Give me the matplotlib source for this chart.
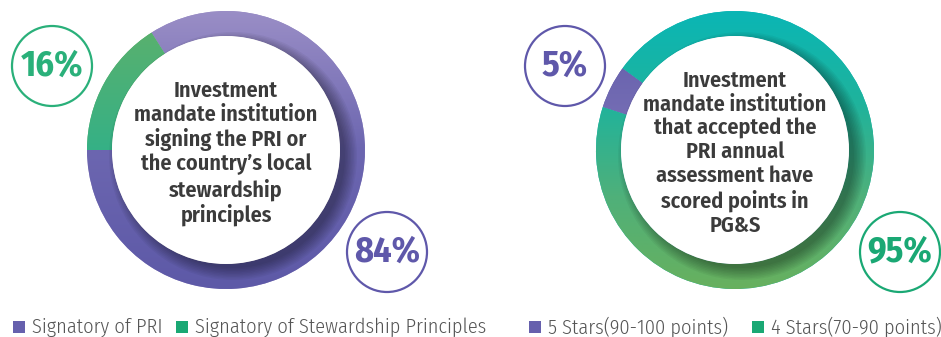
import numpy as np
import matplotlib.pyplot as plt
from matplotlib.patches import Circle, Rectangle
from matplotlib.colors import LinearSegmentedColormap

# data
left_labels = ['Signatory of PRI', 'Signatory of Stewardship Principles']
left_values = [84, 16]
right_labels = ['5 Stars(90-100 points)', '4 Stars(70-90 points)']
right_values = [5, 95]
left_title = 'Investment\nmandate institution\nsigning the PRI or\nthe country\u2019s local\nstewardship\nprinciples'
right_title = 'Investment\nmandate institution\nthat accepted the\nPRI annual\nassessment have\nscored points in\nPG&S'

purple = '#6660ad'
text_dark = '#3b3b3b'
narrow = ['Fira Sans Condensed', 'DejaVu Sans']
W, H = 941, 337

fig = plt.figure(figsize=(W / 100, H / 100), dpi=100)
ax = fig.add_axes([0, 0, 1, 1])

def donut(cx, cy, values, grads, start, title):
    wedges, _ = ax.pie(values, colors=[g[0] for g in grads], startangle=start,
                       center=(cx, cy), radius=139,
                       wedgeprops=dict(width=25, edgecolor='none'))
    # vertical colour gradient inside each wedge
    for w, g in zip(wedges, grads):
        cmap = LinearSegmentedColormap.from_list('g', g[::-1])
        grad = np.linspace(0, 1, 256).reshape(-1, 1)
        im = ax.imshow(grad, cmap=cmap, origin='lower', aspect='auto',
                       extent=(cx - 140, cx + 140, cy - 140, cy + 140), zorder=2)
        im.set_clip_path(w)
    # soft shadow of the inner disc onto the ring
    for i in range(9):
        ax.add_patch(Circle((cx + 7, cy - 6), 112 + i * 1.5, color='black',
                            alpha=0.045, lw=0, zorder=3))
    ax.add_patch(Circle((cx, cy), 114, color='white', lw=0, zorder=4))
    ax.text(cx, cy - 3, title, ha='center', va='center', fontsize=16, color=text_dark,
            fontweight=600, family=narrow, linespacing=1.16, zorder=5)

def badge(cx, cy, txt, color):
    ax.add_patch(Circle((cx, cy), 40, fill=False, ec=color, lw=1.6, zorder=5))
    ax.text(cx, cy, txt, ha='center', va='center', fontsize=26, fontweight='bold',
            family=narrow, color=color, zorder=6)

donut(226, H - 150, left_values,
      [['#9a8ec6', '#6c66b0', '#5d59a7'], ['#5fb06a', '#35b186', '#0fb3a6']],
      180, left_title)
donut(735, H - 150, right_values,
      [['#5e5aa8', '#9a8cc8'], ['#0ab6b5', '#1fb39c', '#4fb07a', '#68b05e']],
      144, right_title)

badge(52, H - 66, f'{left_values[1]}%', '#2ab07a')
badge(387, H - 252, f'{left_values[0]}%', '#5f58aa')
badge(565, H - 66, f'{right_values[0]}%', '#5f58aa')
badge(900, H - 252, f'{right_values[1]}%', '#1aa874')

# legends
def legend_item(x, label, color):
    ax.add_patch(Rectangle((x, H - 333), 12, 12, color=color, lw=0))
    ax.text(x + 19, H - 327, label, ha='left', va='center', fontsize=14.7,
            color='#555555', family=narrow, fontweight=300)

legend_item(13, left_labels[0], purple)
legend_item(176, left_labels[1], '#1aa874')
legend_item(529, right_labels[0], purple)
legend_item(752, right_labels[1], '#1aa874')

ax.set_xlim(0, W)
ax.set_ylim(0, H)
ax.set_aspect('equal')
ax.axis('off')
fig.savefig('out.png', dpi=100)
